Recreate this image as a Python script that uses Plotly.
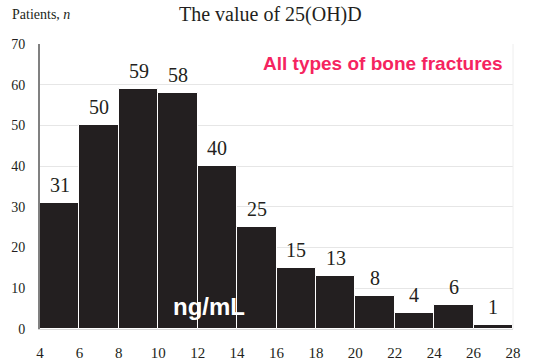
import plotly.graph_objects as go

bin_left = [4, 6, 8, 10, 12, 14, 16, 18, 20, 22, 24, 26]
counts = [31, 50, 59, 58, 40, 25, 15, 13, 8, 4, 6, 1]
x_ticks = [4, 6, 8, 10, 12, 14, 16, 18, 20, 22, 24, 26, 28]
y_ticks = [0, 10, 20, 30, 40, 50, 60, 70]

centers = [b + 1 for b in bin_left]
serif = "Liberation Serif, Times New Roman, serif"
sans = "Liberation Sans, Arial, sans-serif"
ink = "#231f20"

fig = go.Figure()
fig.add_trace(go.Bar(
    x=centers, y=counts, width=[2] * len(counts),
    marker=dict(color=ink, line=dict(color="white", width=1)),
    hoverinfo="x+y",
))

annotations = [
    dict(text=str(c), x=xc, y=c, xref="x", yref="y", xanchor="center", yanchor="bottom",
         yshift=5, showarrow=False, font=dict(family=serif, size=20, color=ink))
    for xc, c in zip(centers, counts)
]
annotations += [
    dict(text="Patients, <i>n</i>", xref="paper", yref="paper", x=-0.063, y=1.102,
         xanchor="left", yanchor="middle", showarrow=False,
         font=dict(family=serif, size=14, color=ink)),
    dict(text="The value of 25(OH)D", xref="paper", yref="paper", x=0.488, y=1.102,
         xanchor="center", yanchor="middle", showarrow=False,
         font=dict(family=serif, size=20, color=ink)),
    dict(text="<b>All types of bone fractures</b>", xref="paper", yref="paper", x=0.983, y=0.933,
         xanchor="right", yanchor="middle", showarrow=False,
         font=dict(family=sans, size=19, color="#f5245f")),
    dict(text="<b>ng/mL</b>", xref="x", yref="y", x=12.6, y=5.6,
         xanchor="center", yanchor="middle", showarrow=False,
         font=dict(family=sans, size=24, color="white")),
]

fig.update_layout(
    width=537, height=363,
    margin=dict(l=40, r=24, t=44, b=34, autoexpand=False),
    paper_bgcolor="white", plot_bgcolor="white",
    showlegend=False, bargap=0,
    xaxis=dict(range=[4, 28], tickvals=x_ticks, ticktext=[str(t) for t in x_ticks],
               showgrid=False, zeroline=False, showline=True, linecolor="#d9d9d9",
               ticks="", ticklabelstandoff=10, automargin=False,
               tickfont=dict(family=serif, size=15, color=ink)),
    yaxis=dict(range=[0, 70], tickvals=y_ticks, ticktext=[str(t) for t in y_ticks],
               showgrid=True, gridcolor="#e6e6e6", gridwidth=1, zeroline=False,
               showline=True, linecolor="#808080", linewidth=2,
               ticks="", ticklabelstandoff=10, automargin=False,
               tickfont=dict(family=serif, size=14, color=ink)),
    annotations=annotations,
    shapes=[
        dict(type="line", xref="paper", yref="paper", x0=1, x1=1, y0=0, y1=1,
             line=dict(color="#eeeeee", width=1)),
    ],
)

fig.write_html("out.html", config={"displayModeBar": False},
               post_script="document.body.style.margin='0';document.body.style.overflow='hidden';")
